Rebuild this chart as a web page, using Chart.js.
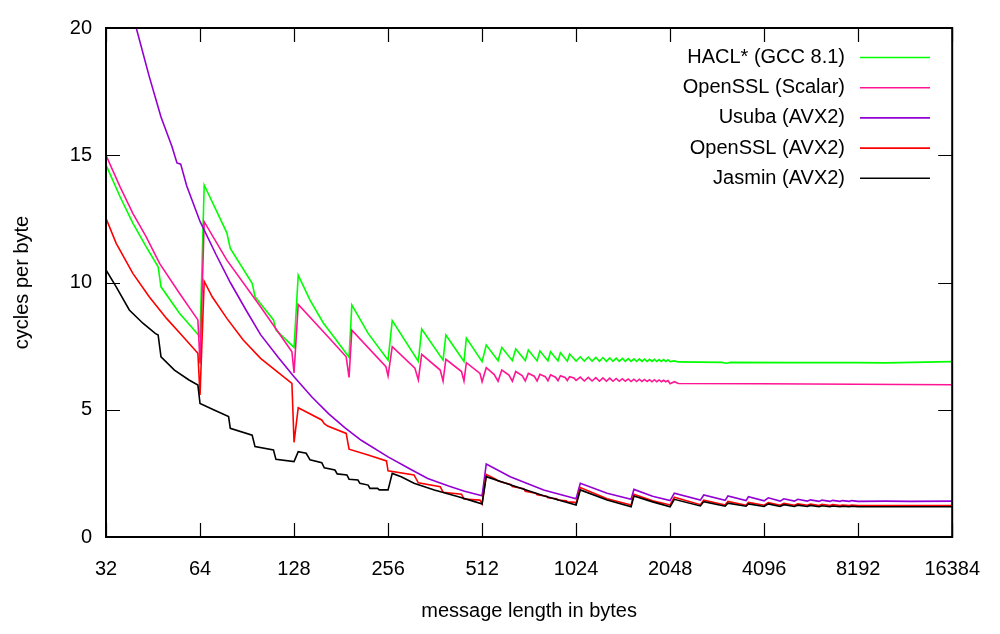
<!DOCTYPE html>
<html>
<head>
<meta charset="utf-8">
<script src="https://cdn.jsdelivr.net/npm/chart.js@4/dist/chart.umd.min.js"></script>
<style>
html,body{margin:0;padding:0;background:#fff;}
#wrap{width:1000px;height:634px;}
</style>
</head>
<body>
<div id="wrap"><canvas id="c" width="1000" height="634"></canvas></div>
<script>
// ---------- data ----------
const xTickValues = [32, 64, 128, 256, 512, 1024, 2048, 4096, 8192, 16384];
const yTickValues = [0, 5, 10, 15, 20];
const seriesLabels = ["HACL* (GCC 8.1)", "OpenSSL (Scalar)", "Usuba (AVX2)", "OpenSSL (AVX2)", "Jasmin (AVX2)"];
const seriesColors = ["#00ff00", "#ff1493", "#9400d3", "#ff0000", "#000000"];

const haclX = [32,35.5,39,43,47,48,55,64,
  66,78,80,94,96,110,112,128,
  132,144,159,173,192,196,221,256,
  264,320,328,384,392,448,456,512,
  528,576,592,640,656,704,720,768,784,832,848,896,912,960,976,1024,
  1056,1088,1120,1152,1184,1216,1248,1280,1312,1344,1376,1408,1440,1472,1504,1536,
  1568,1600,1632,1664,1696,1728,1760,1792,1824,1856,1888,1920,1952,1984,2016,2048,
  2112,2176,3000,3100,3200,5000,8000,10000,16384];
const haclY = [14.62,13.37,12.33,11.41,10.62,9.83,8.79,7.87,
  13.83,11.95,11.34,9.97,9.44,8.53,8.13,7.45,
  10.29,9.31,8.40,7.81,7.06,9.12,8.00,6.95,
  8.50,6.90,8.17,6.95,7.94,6.90,7.82,6.89,
  7.54,6.93,7.45,6.93,7.39,6.93,7.35,6.92,7.31,6.92,7.28,6.92,7.24,6.91,7.19,6.91,
  7.08,6.91,7.07,6.91,7.06,6.90,7.05,6.90,7.04,6.90,7.03,6.90,7.02,6.90,7.01,6.90,
  7.00,6.90,7.00,6.90,6.99,6.90,6.98,6.90,6.98,6.90,6.97,6.90,6.97,6.90,6.96,6.89,
  6.92,6.88,6.86,6.83,6.86,6.85,6.85,6.84,6.89];

const osslScalarX = [32,35.5,39,43,47.5,55,63,64,
  66,78,100,126,128,
  132,165,188,192,196,252,256,
  264,312,320,328,376,384,392,440,448,456,504,512,
  528,560,576,592,624,640,656,688,704,720,752,768,784,816,832,848,880,896,912,944,960,976,1008,1024,
  1056,1088,1120,1152,1184,1216,1248,1280,1312,1344,1376,1408,1440,1472,1504,1536,
  1568,1600,1632,1664,1696,1728,1760,1792,1824,1856,1888,1920,1952,1984,2016,2048,
  2112,2176,4000,8000,16384];
const osslScalarY = [15.00,13.76,12.72,11.80,10.75,9.58,8.53,6.82,
  12.39,10.88,9.05,7.28,6.45,
  9.14,7.85,7.08,6.27,8.13,6.69,6.33,
  7.48,6.63,6.17,7.18,6.56,6.13,6.98,6.50,6.13,6.85,6.43,6.10,
  6.65,6.38,6.12,6.56,6.36,6.12,6.50,6.34,6.13,6.43,6.32,6.13,6.39,6.30,6.14,6.37,6.28,6.14,6.34,6.27,6.15,6.30,6.25,6.15,
  6.28,6.13,6.27,6.13,6.26,6.12,6.25,6.12,6.24,6.12,6.23,6.12,6.22,6.12,6.21,6.11,
  6.20,6.11,6.20,6.11,6.19,6.11,6.18,6.10,6.18,6.10,6.17,6.10,6.16,6.10,6.15,6.02,
  6.10,6.03,6.02,6.00,5.98];

const usubaX = [32,36,40,44,48,52,54,55.5,58,64,72,80,90,100,114,128,146,165,186,210,256,300,343,400,450,512,
  528,630,806,1024,1056,1287,1536,1568,1800,2048,2112,2560,2624,3072,3136,3584,3648,4096,4224,
  4608,4736,5120,5248,5632,5760,6144,6272,6656,6784,7168,7296,7680,7808,8192,10000,12000,16384];
const usubaY = [25.0,22.2,20.0,18.1,16.5,15.35,14.7,14.65,13.8,12.4,11.1,10.0,8.9,7.95,7.05,6.3,5.5,4.85,4.3,3.8,3.15,2.68,2.3,2.0,1.8,1.62,
  2.87,2.37,1.85,1.5,2.11,1.72,1.48,1.87,1.6,1.43,1.72,1.45,1.65,1.44,1.61,1.43,1.58,1.42,1.54,
  1.41,1.50,1.41,1.48,1.41,1.46,1.40,1.45,1.40,1.44,1.40,1.43,1.40,1.43,1.40,1.41,1.40,1.41];

const osslAvx2X = [32,34.5,39,44,50,56.5,63,64,
  66,70,78,88,100,113,126,128,
  132,157,160,164,188,192,221,253,256,310,320,376,384,440,448,504,512,
  528,568,576,632,640,696,704,760,768,824,832,888,896,952,960,1016,1024,
  1056,1287,1536,1568,1800,2048,2112,2560,2624,3072,3136,3584,3648,4096,4224,
  4608,4736,5120,5248,5632,5760,6144,6272,6656,6784,7168,7296,7680,7808,8192,16384];
const osslAvx2Y = [12.52,11.54,10.36,9.44,8.59,7.87,7.22,5.58,
  10.05,9.44,8.59,7.74,7.02,6.50,6.04,3.72,
  5.08,4.60,4.45,4.36,4.07,3.45,3.22,2.99,2.60,2.44,2.13,1.98,1.76,1.68,1.49,1.45,1.30,
  2.46,2.26,2.20,2.06,1.98,1.90,1.80,1.72,1.66,1.60,1.54,1.50,1.45,1.42,1.38,1.36,1.30,
  1.94,1.50,1.26,1.68,1.42,1.26,1.56,1.27,1.45,1.26,1.40,1.25,1.36,1.25,1.35,
  1.25,1.32,1.25,1.30,1.25,1.29,1.24,1.28,1.24,1.27,1.24,1.26,1.24,1.26,1.24,1.24];

const jasminX = [32,34.5,38,42,46,47,48,53,59,63,64,
  71,79,80,94,96,110,112,128,
  132,140,144,157,160,173,176,189,192,205,208,221,224,237,240,256,
  264,282,310,360,430,485,512,
  528,630,806,1024,1056,1287,1536,1568,1800,2048,2112,2560,2624,3072,3136,3584,3648,4096,4224,
  4608,4736,5120,5248,5632,5760,6144,6272,6656,6784,7168,7296,7680,7808,8192,16384];
const jasminY = [10.49,9.83,8.92,8.40,8.00,7.94,7.08,6.56,6.17,5.97,5.25,
  4.99,4.73,4.27,4.00,3.55,3.42,3.05,2.96,
  3.35,3.29,3.03,2.92,2.72,2.63,2.48,2.44,2.27,2.24,2.11,2.04,1.91,1.91,1.85,1.85,
  2.50,2.37,2.11,1.85,1.58,1.39,1.30,
  2.37,2.05,1.62,1.26,1.85,1.45,1.19,1.61,1.38,1.19,1.48,1.22,1.39,1.21,1.33,1.21,1.30,1.20,1.30,
  1.20,1.27,1.20,1.25,1.20,1.24,1.19,1.23,1.19,1.22,1.19,1.21,1.19,1.21,1.19,1.19];

const seriesX = [haclX, osslScalarX, usubaX, osslAvx2X, jasminX];
const seriesY = [haclY, osslScalarY, usubaY, osslAvx2Y, jasminY];

// ---------- chart ----------
const FONT = '"Liberation Sans", Arial, sans-serif';
const FSIZE = 20;
const TICK = 14;

const datasets = seriesLabels.map((lab, i) => ({
  label: lab,
  data: seriesX[i].map((x, j) => ({x: x, y: seriesY[i][j]})),
  borderColor: seriesColors[i],
  backgroundColor: seriesColors[i],
  borderWidth: 1.6,
  pointRadius: 0,
  tension: 0,
  fill: false,
  order: seriesLabels.length - i
}));

const framePlugin = {
  id: 'frame',
  afterDraw(chart) {
    const ctx = chart.ctx;
    const a = chart.chartArea;
    const xs = chart.scales.x, ys = chart.scales.y;
    ctx.save();
    ctx.strokeStyle = '#000';
    ctx.lineWidth = 1.2;
    ctx.beginPath();
    xTickValues.forEach(v => {
      const px = Math.round(xs.getPixelForValue(v)) + 0.5;
      ctx.moveTo(px, a.bottom); ctx.lineTo(px, a.bottom - TICK);
      ctx.moveTo(px, a.top); ctx.lineTo(px, a.top + TICK);
    });
    yTickValues.forEach(v => {
      const py = Math.round(ys.getPixelForValue(v)) + 0.5;
      ctx.moveTo(a.left, py); ctx.lineTo(a.left + TICK, py);
      ctx.moveTo(a.right, py); ctx.lineTo(a.right - TICK, py);
    });
    ctx.stroke();
    ctx.lineWidth = 2;
    ctx.strokeRect(a.left, a.top, a.right - a.left, a.bottom - a.top);

    // axis titles
    ctx.fillStyle = '#000';
    ctx.font = FSIZE + 'px ' + FONT;
    ctx.textAlign = 'center';
    ctx.textBaseline = 'middle';
    ctx.fillText('message length in bytes', (a.left + a.right) / 2, 611);
    ctx.save();
    ctx.translate(22, (a.top + a.bottom) / 2);
    ctx.rotate(-Math.PI / 2);
    ctx.fillText('cycles per byte', 0, 0);
    ctx.restore();

    // legend (gnuplot style: right-aligned text then line sample)
    ctx.textAlign = 'right';
    seriesLabels.forEach((lab, i) => {
      const y = 57.5 + i * 30.2;
      ctx.fillStyle = '#000';
      ctx.fillText(lab, 845, y);
      ctx.strokeStyle = seriesColors[i];
      ctx.lineWidth = 1.6;
      ctx.beginPath();
      ctx.moveTo(860, y); ctx.lineTo(930, y);
      ctx.stroke();
    });
    ctx.restore();
  }
};

const bgPlugin = {
  id: 'bg',
  beforeDraw(chart) {
    const ctx = chart.ctx;
    ctx.save();
    ctx.fillStyle = '#fff';
    ctx.fillRect(0, 0, chart.width, chart.height);
    ctx.restore();
  }
};

new Chart(document.getElementById('c'), {
  type: 'line',
  data: { datasets: datasets },
  options: {
    responsive: false,
    animation: false,
    parsing: true,
    layout: { padding: { left: 0, top: 28, right: 42, bottom: 0 } },
    plugins: { legend: { display: false }, tooltip: { enabled: false } },
    scales: {
      x: {
        type: 'logarithmic',
        min: 32, max: 16384,
        grid: { display: false, drawTicks: false },
        border: { display: false },
        afterBuildTicks: (s) => { s.ticks = xTickValues.map(v => ({ value: v })); },
        afterFit: (s) => { s.height = 97; },
        ticks: {
          color: '#000', padding: 20, maxRotation: 0, autoSkip: false,
          font: { family: FONT, size: FSIZE },
          callback: (v) => String(v)
        }
      },
      y: {
        type: 'linear',
        min: 0, max: 20,
        grid: { display: false, drawTicks: false },
        border: { display: false },
        afterBuildTicks: (s) => { s.ticks = yTickValues.map(v => ({ value: v })); },
        afterFit: (s) => { s.width = 106; },
        ticks: {
          color: '#000', padding: 14,
          font: { family: FONT, size: FSIZE },
          callback: (v) => String(v)
        }
      }
    }
  },
  plugins: [bgPlugin, framePlugin]
});
</script>
</body>
</html>
